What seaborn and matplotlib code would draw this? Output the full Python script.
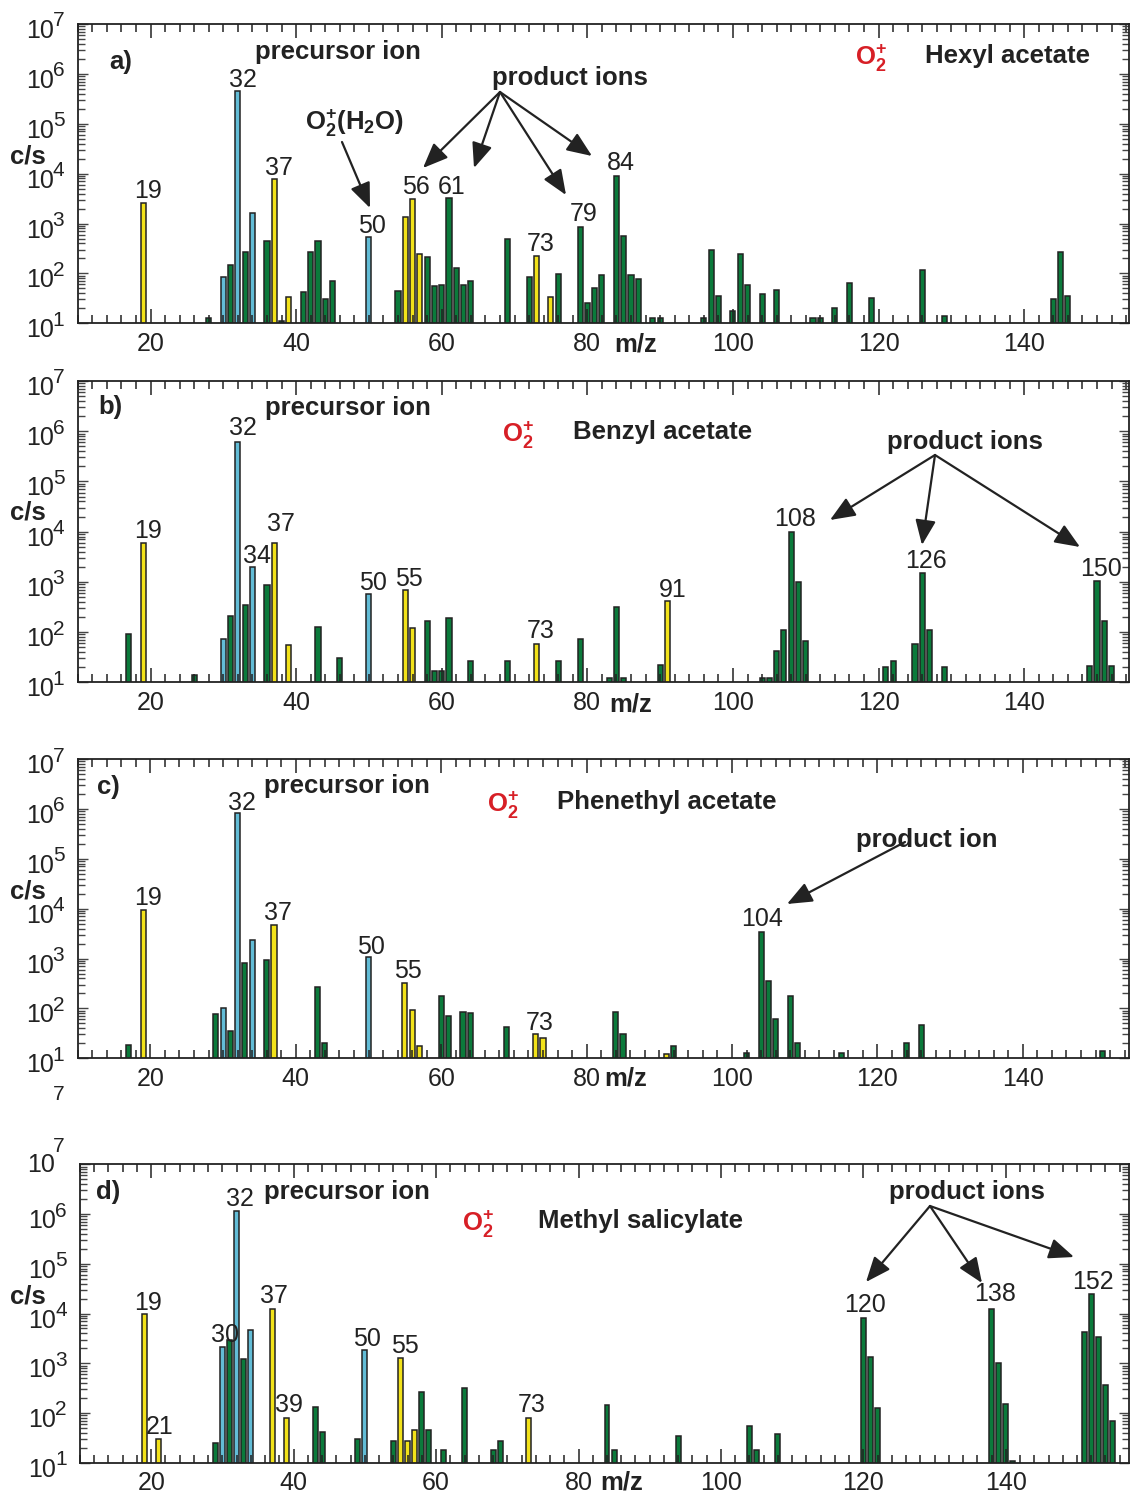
import pandas as pd
import matplotlib
matplotlib.use("Agg")
import matplotlib.pyplot as plt
import seaborn as sns
from matplotlib.ticker import MultipleLocator, LogLocator, NullFormatter
from matplotlib.patches import FancyArrowPatch

# a) Hexyl acetate
a_mz = [19, 28, 30, 31, 32, 33, 34, 36, 37, 38, 39, 41, 42, 43, 44, 45, 50, 54, 55, 56,
        57, 58, 59, 60, 61, 62, 63, 64, 69, 72, 73, 75, 76, 79, 80, 81, 82, 84, 85, 86,
        87, 89, 90, 96, 97, 98, 100, 101, 102, 104, 106, 111, 112, 114, 116, 119, 126, 129,
        144, 145, 146]
a_cps = [2600, 12.6, 84, 150, 4.5e5, 270, 1600, 450, 7800, 11, 33, 43, 270, 450, 30, 69, 530, 45, 1340, 3100,
         245, 210, 55, 58, 3300, 126, 59, 69, 490, 84, 224, 33, 98, 870, 26, 50, 91, 9100, 570, 91,
         76, 12.6, 12.6, 12.6, 295, 35, 18, 245, 59, 39, 46, 12.6, 12.6, 20, 63, 32, 115, 14,
         30, 265, 36]
a_yellow = [19, 37, 39, 55, 56, 57, 73, 75]
a_blue = [30, 32, 34, 50]

# b) Benzyl acetate
b_mz = [17, 19, 26, 30, 31, 32, 33, 34, 36, 37, 39, 43, 46, 50, 55, 56, 58, 59, 60, 61,
        64, 69, 73, 76, 79, 83, 84, 85, 90, 91, 104, 105, 106, 107, 108, 109, 110, 121, 122, 125,
        126, 127, 129, 149, 150, 151, 152]
b_cps = [90, 6000, 14, 72, 210, 6.2e5, 350, 2000, 880, 6000, 55, 128, 31, 580, 690, 118, 165, 17, 17, 195,
         26, 26, 59, 26, 72, 12, 320, 12, 22, 415, 12, 12, 42, 108, 10000, 980, 65, 20, 26, 59,
         1480, 108, 20, 21, 1050, 165, 21]
b_yellow = [19, 37, 39, 55, 56, 73, 91]
b_blue = [30, 32, 34, 50]

# c) Phenethyl acetate
c_mz = [17, 19, 29, 30, 31, 32, 33, 34, 36, 37, 43, 44, 50, 55, 56, 57, 60, 61, 63, 64,
        69, 73, 74, 84, 85, 91, 92, 102, 104, 105, 106, 108, 109, 115, 124, 126, 151]
c_cps = [18.6, 9400, 78, 100, 36, 8.2e5, 820, 2300, 950, 4700, 273, 20, 1060, 320, 91, 18, 178, 72, 84, 80,
         43, 30, 26, 84, 31, 12, 18, 13, 3400, 355, 60, 178, 20, 13, 20, 47, 14]
c_yellow = [19, 37, 55, 56, 57, 73, 74, 91]
c_blue = [30, 32, 34, 50]

# d) Methyl salicylate
d_mz = [19, 21, 29, 30, 31, 32, 33, 34, 37, 39, 43, 44, 49, 50, 54, 55, 56, 57, 58, 59,
        61, 64, 68, 69, 73, 84, 85, 94, 104, 105, 108, 120, 121, 122, 138, 139, 140, 141, 151, 152,
        153, 154, 155]
d_cps = [9800, 29.5, 25, 2140, 3000, 1.17e6, 1200, 4600, 12400, 81, 133, 41, 29.5, 1830, 27, 1290, 27, 45, 263, 45,
         17.7, 315, 17.7, 27, 81, 145, 17.7, 35, 54, 17.7, 38, 8300, 1310, 125, 12400, 1020, 148, 11, 4250, 25000,
         3300, 370, 68]
d_yellow = [19, 21, 37, 39, 55, 56, 57, 73]
d_blue = [30, 32, 34, 50]

PAL = {"g": "#0b7a3b", "y": "#f2e21a", "b": "#62bcd6"}
INK = "#222222"
RED = "#d71f26"

plt.rcParams["font.family"] = ["Liberation Sans", "DejaVu Sans"]
plt.rcParams["mathtext.fontset"] = "custom"
plt.rcParams["mathtext.rm"] = "Liberation Sans"
plt.rcParams["mathtext.bf"] = "Liberation Sans:bold"
plt.rcParams["mathtext.it"] = "Liberation Sans:italic"

W, H = 1131, 1497
fig = plt.figure(figsize=(W / 100, H / 100), dpi=100)


def ftext(x, y, s, **kw):
    kw.setdefault("ha", "center")
    kw.setdefault("va", "center")
    kw.setdefault("color", INK)
    fig.text(x / W, 1 - y / H, s, **kw)


def farrow(x0, y0, x1, y1):
    fig.add_artist(FancyArrowPatch((x0 / W, 1 - y0 / H), (x1 / W, 1 - y1 / H),
                                   transform=fig.transFigure,
                                   arrowstyle="-|>,head_length=0.85,head_width=0.35",
                                   mutation_scale=18, lw=1.6, color=INK,
                                   shrinkA=0, shrinkB=0))


O2 = r"$\mathbf{O}_{\mathbf{2}}^{\mathbf{+}}$"

panels = [
    (a_mz, a_cps, a_yellow, a_blue, (77.7, 24, 1129, 323.3), 154.4),
    (b_mz, b_cps, b_yellow, b_blue, (77.7, 381, 1129, 682.3), 154.4),
    (c_mz, c_cps, c_yellow, c_blue, (77.7, 759, 1129, 1058.3), 154.6),
    (d_mz, d_cps, d_yellow, d_blue, (80, 1164.3, 1129, 1462.7), 157.3),
]

axes = []
for i, (mz, cps, yel, blu, box, xmax) in enumerate(panels):
    l, t, r, b = box
    ax = fig.add_axes([l / W, 1 - b / H, (r - l) / W, (b - t) / H])
    kind = ["y" if m in yel else ("b" if m in blu else "g") for m in mz]
    df = pd.DataFrame({"mz": mz, "cps": cps, "kind": kind})
    sns.barplot(data=df, x="mz", y="cps", hue="kind", palette=PAL, native_scale=True,
                dodge=False, width=0.7, saturation=1, edgecolor=INK, linewidth=1.1,
                errorbar=None, legend=False, ax=ax)
    ax.set_yscale("log")
    ax.set_xlim(10, xmax)
    ax.set_ylim(10, 1e7)
    ax.set_xlabel("")
    ax.set_ylabel("")
    ax.xaxis.set_major_locator(MultipleLocator(20))
    ax.xaxis.set_minor_locator(MultipleLocator(2))
    ax.yaxis.set_major_locator(LogLocator(base=10, numticks=10))
    ax.yaxis.set_minor_locator(LogLocator(base=10, subs=range(2, 10), numticks=10))
    ax.yaxis.set_major_formatter(NullFormatter())
    ax.yaxis.set_minor_formatter(NullFormatter())
    ax.tick_params(axis="x", which="both", direction="in", top=True, bottom=True,
                   color=INK, width=1.1)
    ax.tick_params(axis="x", which="major", length=10, pad=6, labelsize=18, labelcolor=INK)
    ax.tick_params(axis="x", which="minor", length=6)
    ax.tick_params(axis="y", which="both", direction="in", left=True, right=True,
                   color="#444444", width=1.0)
    ax.tick_params(axis="y", which="major", length=7)
    ax.tick_params(axis="y", which="minor", length=5)
    for s in ax.spines.values():
        s.set_linewidth(1.3)
        s.set_color(INK)
    for k in range(1, 8):
        if i == 3 and k == 7:
            ax.annotate("10", xy=(0, 1e7), xycoords=("axes fraction", "data"),
                        xytext=(-25, -1), textcoords="offset pixels",
                        ha="right", va="center", fontsize=18, color=INK)
            ax.annotate("7", xy=(0, 1e7), xycoords=("axes fraction", "data"),
                        xytext=(-27, 18), textcoords="offset pixels",
                        ha="left", va="center", fontsize=15, color=INK)
            continue
        ax.annotate("10", xy=(0, 10 ** k), xycoords=("axes fraction", "data"),
                    xytext=(-24, -7), textcoords="offset pixels",
                    ha="right", va="center", fontsize=18, color=INK)
        ax.annotate(str(k), xy=(0, 10 ** k), xycoords=("axes fraction", "data"),
                    xytext=(-25, 3), textcoords="offset pixels",
                    ha="left", va="center", fontsize=15, color=INK)
    axes.append(ax)

# stray exponent between panels c and d
ftext(59, 1095, "7", fontsize=15)

bold = dict(fontsize=18.5, fontweight="bold")
num = dict(fontsize=18)

# panel a annotations
ftext(121, 62, "a)", **bold)
ftext(338, 52, "precursor ion", **bold)
ftext(855, 58, O2, ha="left", fontsize=18.5, color=RED)
ftext(925, 55.5, "Hexyl acetate", ha="left", **bold)
ftext(570, 78, "product ions", **bold)
ftext(354, 123, r"$\mathbf{O}_{\mathbf{2}}^{\mathbf{+}}\mathbf{(H}_{\mathbf{2}}\mathbf{O)}$", fontsize=18.5)
ftext(28, 156, "c/s", **bold)
ftext(636, 344, "m/z", **bold)
for x0, y0, x1, y1 in [(500, 92, 423, 168), (500, 92, 474, 168), (500, 92, 566, 195),
                       (500, 92, 592, 156), (342, 142, 370, 208)]:
    farrow(x0, y0, x1, y1)
for s, x, y in [("19", 147.5, 191), ("32", 242.5, 80), ("37", 279, 168), ("50", 372, 226),
                ("56", 416, 187), ("61", 452, 187), ("73", 541, 244), ("79", 584, 214),
                ("84", 621, 163)]:
    ftext(x, y, s, **num)

# panel b annotations
ftext(110, 407, "b)", **bold)
ftext(348, 408, "precursor ion", **bold)
ftext(502, 435, O2, ha="left", fontsize=18.5, color=RED)
ftext(573, 432.5, "Benzyl acetate", ha="left", **bold)
ftext(965, 442, "product ions", **bold)
ftext(28, 512, "c/s", **bold)
ftext(631, 704, "m/z", **bold)
for x1, y1 in [(830, 520), (922, 545), (1080, 547)]:
    farrow(935, 455, x1, y1)
for s, x, y in [("19", 147.5, 531), ("32", 242.5, 428), ("37", 281, 524), ("34", 257, 556),
                ("50", 372.5, 583.5), ("55", 409, 579), ("73", 541, 631), ("91", 673, 590),
                ("108", 795, 519), ("126", 926, 561), ("150", 1101, 569)]:
    ftext(x, y, s, **num)

# panel c annotations
ftext(108.5, 787, "c)", **bold)
ftext(347, 786, "precursor ion", **bold)
ftext(487, 805.5, O2, ha="left", fontsize=18.5, color=RED)
ftext(557, 802.5, "Phenethyl acetate", ha="left", **bold)
ftext(927, 840, "product ion", **bold)
ftext(28, 891.5, "c/s", **bold)
ftext(626, 1078, "m/z", **bold)
farrow(905, 842, 787, 904)
for s, x, y in [("19", 147.5, 898), ("32", 242, 802.5), ("37", 278, 913), ("50", 371, 947.5),
                ("55", 407.5, 971.5), ("73", 540, 1022.5), ("104", 762.5, 919)]:
    ftext(x, y, s, **num)

# panel d annotations
ftext(108, 1192, "d)", **bold)
ftext(347, 1192, "precursor ion", **bold)
ftext(462, 1224, O2, ha="left", fontsize=18.5, color=RED)
ftext(538, 1221, "Methyl salicylate", ha="left", **bold)
ftext(966.5, 1192, "product ions", **bold)
ftext(28, 1297, "c/s", **bold)
ftext(622, 1482, "m/z", **bold)
for x1, y1 in [(866, 1282), (982, 1283), (1074, 1257)]:
    farrow(930, 1206, x1, y1)
for s, x, y in [("19", 147.5, 1302.5), ("21", 160, 1427.5), ("30", 225, 1335), ("32", 240, 1198.5),
                ("37", 274, 1296), ("39", 289, 1405), ("50", 367, 1338.5), ("55", 404.5, 1346),
                ("73", 532, 1405), ("120", 865, 1305), ("138", 995, 1294), ("152", 1092.5, 1282)]:
    ftext(x, y, s, **num)

fig.savefig("out.png", dpi=100)
